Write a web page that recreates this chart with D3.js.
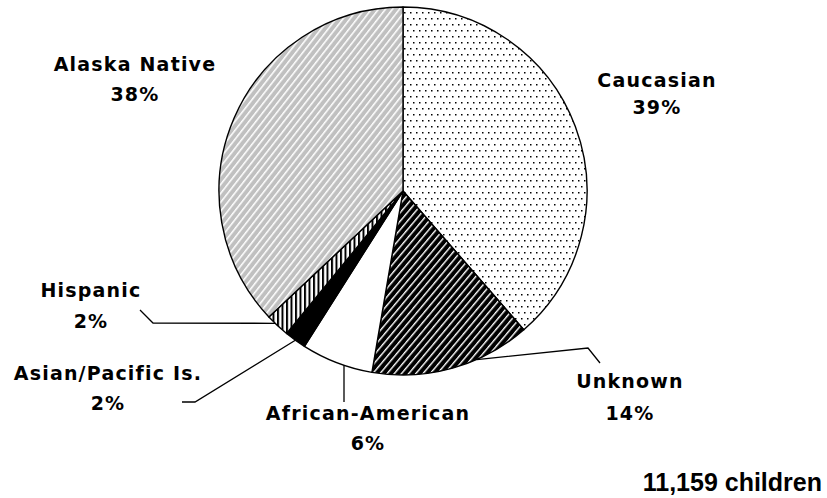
<!doctype html>
<html>
<head>
<meta charset="UTF-8">
<title>pie</title>
<script src="https://cdn.jsdelivr.net/npm/d3@7"></script>
<style>
  body { margin: 0; background: #fff; }
  .lbl { font-family: "DejaVu Sans", sans-serif; font-weight: bold; font-size: 19px; letter-spacing: 1.2px; }
</style>
</head>
<body>
<svg width="827" height="498"></svg>
<script>

    // clockwise from 12 o'clock
    let categories = ["Caucasian", "Unknown", "African-American", "Asian/Pacific Is.", "Hispanic", "Alaska Native"];
    let shares = [38.6, 14.1, 6.3, 1.9, 2.1, 37.0];
    let shareLabels = ["39%", "14%", "6%", "2%", "2%", "38%"];
    let totalLabel = "11,159 children";

    let svg = d3.select("svg");
    let cx = 403, cy = 191, r = 184;

    let defs = svg.append("defs");

    // dotted
    let pDot = defs.append("pattern").attr("id", "pDot").attr("patternUnits", "userSpaceOnUse")
        .attr("width", 6).attr("height", 12);
    pDot.append("rect").attr("width", 6).attr("height", 12).attr("fill", "#fff");
    pDot.append("rect").attr("x", 1).attr("y", 1).attr("width", 1.5).attr("height", 1.5).attr("fill", "#000");
    pDot.append("rect").attr("x", 4).attr("y", 7).attr("width", 1.5).attr("height", 1.5).attr("fill", "#000");

    // black with white diagonals
    let pBlk = defs.append("pattern").attr("id", "pBlk").attr("patternUnits", "userSpaceOnUse")
        .attr("width", 5.5).attr("height", 5.5).attr("patternTransform", "rotate(40)");
    pBlk.append("rect").attr("width", 5.5).attr("height", 5.5).attr("fill", "#000");
    pBlk.append("rect").attr("x", 0).attr("y", 0).attr("width", 1.4).attr("height", 5.5).attr("fill", "#fff");

    // vertical stripes
    let pVert = defs.append("pattern").attr("id", "pVert").attr("patternUnits", "userSpaceOnUse")
        .attr("width", 4.5).attr("height", 4);
    pVert.append("rect").attr("width", 4.5).attr("height", 4).attr("fill", "#fff");
    pVert.append("rect").attr("width", 2).attr("height", 4).attr("fill", "#000");

    // grey with white diagonals
    let pGry = defs.append("pattern").attr("id", "pGry").attr("patternUnits", "userSpaceOnUse")
        .attr("width", 5.5).attr("height", 5.5).attr("patternTransform", "rotate(38)");
    pGry.append("rect").attr("width", 5.5).attr("height", 5.5).attr("fill", "#c0c0c0");
    pGry.append("rect").attr("width", 1.5).attr("height", 5.5).attr("fill", "#fff");

    let fills = ["url(#pDot)", "url(#pBlk)", "#fff", "#000", "url(#pVert)", "url(#pGry)"];

    let pie = d3.pie().sort(null).value(d => d);
    let arcs = pie(shares);
    let arc = d3.arc().innerRadius(0).outerRadius(r);

    let g = svg.append("g").attr("transform", "translate(" + cx + "," + cy + ")");
    g.selectAll("path").data(arcs).enter().append("path")
        .attr("d", arc)
        .attr("fill", (d, i) => fills[i])
        .attr("stroke", "#000")
        .attr("stroke-width", 1.4)
        .attr("stroke-linejoin", "round");

    // label placement: text centre, two baselines, leader elbow points, anchor angle offset (deg)
    let layout = [
        {x: 657, y: 87, y2: 114},
        {x: 630, y: 388, y2: 420, pts: [[588, 348], [600, 363]], off: -8},
        {x: 368, y: 420, y2: 450, pts: [[344, 402]], off: -2, vert: true},
        {x: 108, y: 380, y2: 410, pts: [[195, 402], [182, 402]], off: 0},
        {x: 91, y: 297, y2: 328, pts: [[153, 323], [140, 310]], off: 1},
        {x: 135, y: 71, y2: 101}
    ];

    function edgePoint(a) {
        return [cx + r * Math.sin(a), cy - r * Math.cos(a)];
    }

    arcs.forEach((d, i) => {
        let L = layout[i];
        if (L.pts) {
            let a = (d.startAngle + d.endAngle) / 2 + (L.off || 0) * Math.PI / 180;
            let p0 = edgePoint(a);
            if (L.vert) {
                // vertical leader: hit the arc straight above the elbow
                let x = L.pts[0][0];
                p0 = [x, cy + Math.sqrt(r * r - (x - cx) * (x - cx))];
            }
            svg.append("path")
                .attr("d", d3.line()([p0].concat(L.pts)))
                .attr("fill", "none")
                .attr("stroke", "#000")
                .attr("stroke-width", 1.3);
        }
        svg.append("text").attr("class", "lbl")
            .attr("x", L.x).attr("y", L.y)
            .attr("text-anchor", "middle")
            .text(categories[i]);
        svg.append("text").attr("class", "lbl")
            .attr("x", L.x).attr("y", L.y2)
            .attr("text-anchor", "middle")
            .text(shareLabels[i]);
    });

    svg.append("text")
        .attr("x", 822).attr("y", 491)
        .attr("text-anchor", "end")
        .attr("font-family", "Liberation Sans, Arial, sans-serif")
        .attr("font-weight", "bold")
        .attr("font-size", 25)
        .text(totalLabel);

</script>
</body>
</html>
